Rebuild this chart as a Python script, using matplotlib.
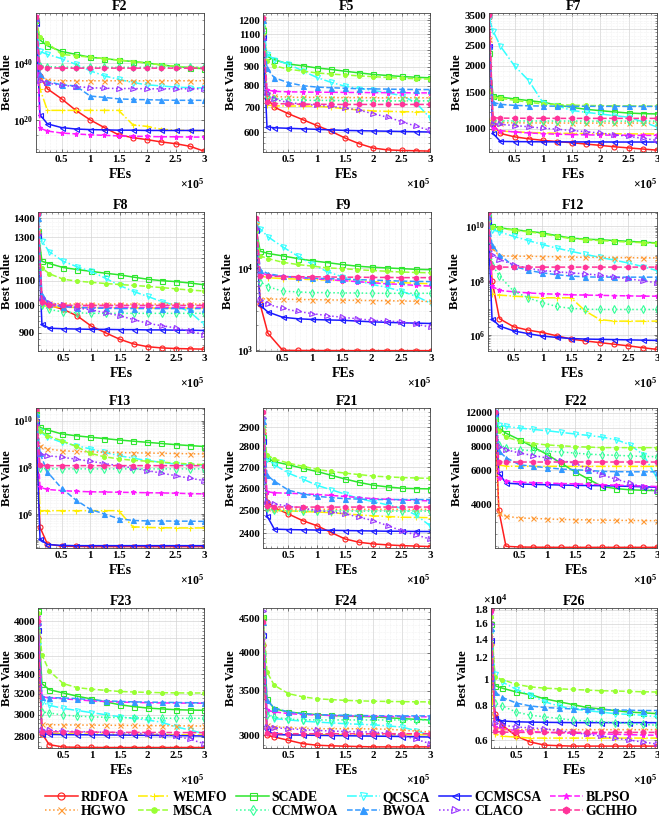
import numpy as np
import matplotlib
matplotlib.use('Agg')
import matplotlib.pyplot as plt
from matplotlib.ticker import (FixedLocator, FixedFormatter, NullFormatter,
                               MultipleLocator, FuncFormatter, LogLocator)

plt.rcParams['font.family'] = ['Liberation Serif', 'DejaVu Serif']
plt.rcParams['font.weight'] = 'bold'
plt.rcParams['mathtext.fontset'] = 'custom'
plt.rcParams['mathtext.rm'] = 'Liberation Serif:bold'
plt.rcParams['mathtext.it'] = 'Liberation Serif:bold:italic'
plt.rcParams['mathtext.bf'] = 'Liberation Serif:bold'

# ---------------- data ----------------
FES = [5000, 12000, 25000, 50000, 75000, 100000, 125000, 150000, 175000,
       200000, 225000, 250000, 275000, 300000]

ALGS = ['RDFOA', 'WEMFO', 'SCADE', 'QCSCA', 'CCMSCSA', 'BLPSO',
        'HGWO', 'MSCA', 'CCMWOA', 'BWOA', 'CLACO', 'GCHHO']

# F2, F12, F13 are given as log10(best value)
F2_LOG10 = {
    'RDFOA':   [55.0, 35.3, 31.0, 27.5, 23.5, 20.2, 17.5, 15.0, 14.0, 13.3, 12.5, 11.9, 11.0, 9.3],
    'WEMFO':   [55.5, 31.0, 23.5, 23.5, 23.5, 23.5, 23.5, 23.5, 18.5, 17.9, 16.9, 16.6, 16.5, 16.4],
    'SCADE':   [55.0, 48.0, 46.0, 44.0, 43.0, 42.0, 41.5, 41.0, 40.5, 40.0, 39.3, 38.8, 38.3, 38.0],
    'QCSCA':   [55.0, 44.0, 43.0, 41.5, 39.5, 37.3, 35.5, 34.3, 33.2, 32.4, 32.0, 31.6, 31.4, 31.3],
    'CCMSCSA': [54.0, 22.0, 18.8, 17.5, 17.0, 16.8, 16.7, 16.6, 16.6, 16.5, 16.5, 16.5, 16.5, 16.5],
    'BLPSO':   [56.5, 17.3, 16.3, 15.6, 15.3, 15.0, 14.8, 14.6, 14.5, 14.4, 14.3, 14.3, 14.2, 14.2],
    'HGWO':    [55.0, 34.5, 34.0, 33.8, 33.8, 33.8, 33.8, 33.8, 33.8, 33.8, 33.8, 33.8, 33.8, 33.8],
    'MSCA':    [55.0, 49.0, 47.0, 43.0, 42.5, 42.0, 41.5, 41.0, 40.5, 40.0, 39.3, 38.8, 38.5, 38.3],
    'CCMWOA':  [55.0, 39.0, 38.7, 38.6, 38.5, 38.5, 38.5, 38.5, 38.5, 38.5, 38.5, 38.5, 38.5, 38.5],
    'BWOA':    [55.5, 36.0, 33.5, 32.4, 32.0, 28.5, 28.0, 27.5, 27.3, 27.2, 27.1, 27.0, 27.0, 27.0],
    'CLACO':   [55.0, 33.8, 33.0, 32.2, 31.8, 31.4, 31.2, 31.1, 31.1, 31.0, 31.0, 31.0, 31.0, 31.0],
    'GCHHO':   [56.0, 38.5, 38.3, 38.2, 38.2, 38.2, 38.2, 38.2, 38.2, 38.2, 38.2, 38.2, 38.2, 38.2],
}

F5 = {
    'RDFOA':   [1080, 740, 700, 672, 648, 625, 603, 578, 558, 543, 537, 535, 534, 533],
    'WEMFO':   [1150, 710, 706, 705, 705, 704, 700, 693, 688, 684, 682, 681, 680, 680],
    'SCADE':   [1130, 960, 940, 915, 905, 893, 885, 875, 866, 858, 852, 847, 843, 840],
    'QCSCA':   [1200, 975, 940, 914, 877, 842, 817, 797, 786, 777, 765, 752, 720, 655],
    'CCMSCSA': [1080, 620, 616, 614, 612, 610, 608, 606, 605, 604, 603, 602, 601, 600],
    'BLPSO':   [1220, 780, 772, 770, 769, 768, 768, 767, 767, 766, 766, 766, 765, 765],
    'HGWO':    [1210, 760, 748, 745, 744, 744, 743, 743, 743, 742, 742, 742, 742, 742],
    'MSCA':    [1100, 930, 905, 886, 876, 866, 860, 855, 850, 846, 842, 838, 835, 833],
    'CCMWOA':  [1160, 750, 738, 733, 731, 730, 730, 729, 729, 729, 728, 728, 728, 728],
    'BWOA':    [1200, 890, 840, 815, 800, 793, 790, 787, 785, 784, 783, 782, 781, 781],
    'CLACO':   [1070, 765, 735, 720, 714, 708, 703, 697, 687, 672, 658, 640, 622, 606],
    'GCHHO':   [1215, 725, 716, 714, 713, 713, 712, 712, 712, 712, 712, 712, 712, 712],
}

F7 = {
    'RDFOA':   [3450, 1050, 950, 915, 895, 880, 868, 858, 845, 833, 820, 810, 800, 790],
    'WEMFO':   [1100, 990, 975, 968, 960, 955, 952, 950, 948, 947, 946, 945, 945, 945],
    'SCADE':   [2300, 1440, 1420, 1390, 1365, 1340, 1300, 1268, 1240, 1222, 1205, 1190, 1182, 1178],
    'QCSCA':   [3400, 2950, 2490, 2000, 1700, 1330, 1290, 1225, 1200, 1178, 1157, 1136, 1080, 1020],
    'CCMSCSA': [2500, 950, 870, 868, 867, 866, 866, 865, 865, 865, 864, 864, 864, 864],
    'BLPSO':   [3550, 1010, 980, 965, 955, 948, 942, 938, 935, 933, 932, 931, 930, 930],
    'HGWO':    [2700, 1080, 1070, 1068, 1067, 1066, 1066, 1065, 1065, 1065, 1065, 1065, 1065, 1065],
    'MSCA':    [1520, 1420, 1400, 1370, 1340, 1315, 1305, 1298, 1294, 1291, 1289, 1287, 1285, 1283],
    'CCMWOA':  [2400, 1100, 1092, 1090, 1090, 1089, 1089, 1089, 1088, 1088, 1088, 1088, 1088, 1088],
    'BWOA':    [2500, 1340, 1310, 1295, 1288, 1285, 1283, 1282, 1282, 1281, 1281, 1280, 1280, 1280],
    'CLACO':   [2500, 1060, 1050, 1037, 1022, 1007, 995, 982, 968, 954, 937, 920, 900, 880],
    'GCHHO':   [3500, 1130, 1125, 1124, 1123, 1123, 1122, 1122, 1122, 1122, 1122, 1122, 1122, 1122],
}

F8 = {
    'RDFOA':   [1330, 1020, 1000, 985, 960, 923, 900, 878, 862, 853, 849, 847, 846, 845],
    'WEMFO':   [1230, 1000, 995, 993, 992, 992, 991, 991, 991, 990, 990, 990, 990, 990],
    'SCADE':   [1330, 1185, 1175, 1157, 1148, 1140, 1132, 1125, 1115, 1106, 1100, 1096, 1090, 1083],
    'QCSCA':   [1410, 1280, 1230, 1185, 1160, 1140, 1110, 1080, 1055, 1035, 1015, 1000, 975, 930],
    'CCMSCSA': [1310, 930, 916, 914, 913, 912, 912, 911, 911, 910, 910, 909, 909, 908],
    'BLPSO':   [1420, 1010, 1000, 995, 993, 992, 992, 992, 992, 992, 992, 992, 992, 992],
    'HGWO':    [1330, 1020, 1008, 1006, 1005, 1005, 1005, 1005, 1005, 1005, 1005, 1005, 1005, 1005],
    'MSCA':    [1210, 1155, 1130, 1106, 1098, 1093, 1088, 1084, 1080, 1076, 1071, 1066, 1061, 1057],
    'CCMWOA':  [1300, 1000, 985, 975, 972, 970, 970, 970, 970, 970, 970, 970, 970, 970],
    'BWOA':    [1400, 1040, 1005, 995, 992, 990, 989, 988, 988, 988, 988, 988, 988, 988],
    'CLACO':   [1310, 1030, 1010, 1000, 990, 983, 972, 961, 947, 933, 925, 917, 905, 894],
    'GCHHO':   [1420, 1012, 1003, 1001, 1000, 1000, 1000, 1000, 1000, 1000, 1000, 1000, 1000, 1000],
}

F9 = {
    'RDFOA':   [3.6e4, 3.6e3, 1.6e3, 990, 985, 983, 982, 981, 980, 980, 980, 980, 980, 980],
    'WEMFO':   [3.5e4, 8.0e3, 7.6e3, 7.4e3, 7.3e3, 7.2e3, 7.1e3, 7.0e3, 6.9e3, 6.8e3, 6.7e3, 6.6e3, 6.5e3, 6.4e3],
    'SCADE':   [3.0e4, 1.6e4, 1.5e4, 1.4e4, 1.3e4, 1.22e4, 1.16e4, 1.1e4, 1.05e4, 1.02e4, 1.0e4, 9.8e3, 9.6e3, 9.5e3],
    'QCSCA':   [3.4e4, 3.0e4, 2.4e4, 1.8e4, 1.4e4, 1.1e4, 9.0e3, 7.8e3, 7.0e3, 6.3e3, 5.8e3, 5.2e3, 4.5e3, 3.7e3],
    'CCMSCSA': [2.9e4, 3.5e3, 2.9e3, 2.5e3, 2.4e3, 2.35e3, 2.32e3, 2.3e3, 2.25e3, 2.2e3, 2.17e3, 2.14e3, 2.12e3, 2.1e3],
    'BLPSO':   [4.0e4, 8.7e3, 8.2e3, 7.9e3, 7.6e3, 7.4e3, 7.2e3, 7.0e3, 6.8e3, 6.6e3, 6.4e3, 6.3e3, 6.1e3, 6.0e3],
    'HGWO':    [3.3e4, 4.2e3, 4.18e3, 4.15e3, 4.12e3, 4.1e3, 4.07e3, 4.05e3, 4.02e3, 4.0e3, 3.98e3, 3.95e3, 3.92e3, 3.9e3],
    'MSCA':    [2.8e4, 1.4e4, 1.3e4, 1.17e4, 1.1e4, 1.05e4, 1.0e4, 9.8e3, 9.5e3, 9.3e3, 9.1e3, 8.9e3, 8.8e3, 8.7e3],
    'CCMWOA':  [3.1e4, 6.8e3, 5.9e3, 5.2e3, 5.1e3, 5.0e3, 5.0e3, 4.95e3, 4.95e3, 4.9e3, 4.9e3, 4.9e3, 4.9e3, 4.9e3],
    'BWOA':    [3.2e4, 9.5e3, 8.5e3, 7.9e3, 7.7e3, 7.5e3, 7.4e3, 7.3e3, 7.2e3, 7.1e3, 7.0e3, 6.9e3, 6.85e3, 6.8e3],
    'CLACO':   [3.0e4, 4.05e3, 3.6e3, 3.2e3, 2.95e3, 2.77e3, 2.62e3, 2.5e3, 2.4e3, 2.3e3, 2.25e3, 2.2e3, 2.05e3, 1.9e3],
    'GCHHO':   [4.1e4, 8.0e3, 7.9e3, 7.85e3, 7.8e3, 7.8e3, 7.75e3, 7.7e3, 7.7e3, 7.65e3, 7.65e3, 7.6e3, 7.6e3, 7.6e3],
}

F12_LOG10 = {
    'RDFOA':   [10.5, 8.0, 6.6, 6.3, 6.18, 6.09, 5.97, 5.85, 5.78, 5.72, 5.66, 5.6, 5.53, 5.47],
    'WEMFO':   [10.3, 7.52, 7.47, 7.43, 7.40, 7.37, 7.37, 7.37, 6.88, 6.57, 6.51, 6.51, 6.51, 6.51],
    'SCADE':   [10.4, 10.0, 9.95, 9.88, 9.82, 9.76, 9.66, 9.57, 9.53, 9.51, 9.48, 9.45, 9.42, 9.39],
    'QCSCA':   [10.4, 9.88, 9.8, 9.63, 9.48, 9.33, 9.2, 9.08, 8.97, 8.86, 8.76, 8.65, 8.52, 8.37],
    'CCMSCSA': [10.2, 6.6, 6.33, 6.15, 6.05, 5.96, 5.91, 5.87, 5.85, 5.84, 5.83, 5.82, 5.81, 5.8],
    'BLPSO':   [10.5, 7.8, 7.64, 7.59, 7.55, 7.52, 7.5, 7.48, 7.47, 7.46, 7.45, 7.44, 7.43, 7.43],
    'HGWO':    [10.3, 9.2, 8.92, 8.9, 8.9, 8.89, 8.88, 8.87, 8.86, 8.86, 8.85, 8.85, 8.84, 8.84],
    'MSCA':    [10.3, 9.98, 9.93, 9.86, 9.8, 9.73, 9.63, 9.55, 9.51, 9.48, 9.45, 9.42, 9.4, 9.37],
    'CCMWOA':  [10.3, 8.59, 8.17, 7.61, 7.37, 7.19, 7.05, 6.98, 6.95, 6.94, 6.94, 6.94, 6.94, 6.94],
    'BWOA':    [10.4, 9.33, 8.96, 8.53, 8.38, 8.29, 8.22, 8.17, 8.14, 8.13, 8.13, 8.13, 8.13, 8.13],
    'CLACO':   [10.3, 8.96, 8.78, 8.59, 8.46, 8.37, 8.33, 8.29, 8.25, 8.2, 8.14, 8.07, 8.0, 7.92],
    'GCHHO':   [10.5, 8.52, 8.5, 8.5, 8.5, 8.5, 8.5, 8.5, 8.5, 8.5, 8.5, 8.5, 8.5, 8.5],
}

F13_LOG10 = {
    'RDFOA':   [10.4, 5.43, 4.71, 4.62, 4.61, 4.6, 4.6, 4.6, 4.6, 4.6, 4.6, 4.6, 4.6, 4.6],
    'WEMFO':   [10.3, 6.14, 6.14, 6.14, 6.14, 6.14, 6.14, 6.14, 5.45, 5.42, 5.41, 5.4, 5.4, 5.4],
    'SCADE':   [10.3, 9.71, 9.6, 9.43, 9.35, 9.29, 9.23, 9.17, 9.12, 9.07, 9.02, 8.97, 8.93, 8.89],
    'QCSCA':   [10.2, 9.54, 9.29, 9.07, 8.93, 8.79, 8.64, 8.5, 8.39, 8.29, 8.21, 8.14, 8.1, 8.07],
    'CCMSCSA': [10.0, 4.93, 4.69, 4.65, 4.64, 4.64, 4.64, 4.64, 4.64, 4.64, 4.64, 4.64, 4.64, 4.64],
    'BLPSO':   [10.5, 7.14, 7.05, 7.0, 6.97, 6.95, 6.94, 6.93, 6.92, 6.91, 6.9, 6.89, 6.87, 6.86],
    'HGWO':    [10.1, 8.93, 8.79, 8.71, 8.68, 8.66, 8.64, 8.63, 8.62, 8.61, 8.6, 8.59, 8.58, 8.57],
    'MSCA':    [10.2, 9.57, 9.35, 9.14, 8.9, 8.6, 8.45, 8.36, 8.3, 8.26, 8.22, 8.18, 8.14, 8.11],
    'CCMWOA':  [10.2, 7.95, 7.94, 7.93, 7.93, 7.93, 7.93, 7.93, 7.93, 7.93, 7.93, 7.93, 7.93, 7.93],
    'BWOA':    [10.3, 8.6, 7.8, 7.1, 6.6, 6.2, 6.0, 5.8, 5.72, 5.7, 5.7, 5.69, 5.69, 5.68],
    'CLACO':   [9.8, 8.57, 8.5, 8.43, 8.35, 8.26, 8.16, 8.07, 7.97, 7.86, 7.75, 7.64, 7.53, 7.43],
    'GCHHO':   [10.5, 8.08, 8.07, 8.07, 8.07, 8.07, 8.07, 8.07, 8.07, 8.07, 8.07, 8.07, 8.07, 8.07],
}

F21 = {
    'RDFOA':   [2870, 2540, 2512, 2484, 2455, 2433, 2404, 2376, 2362, 2355, 2351, 2348, 2346, 2344],
    'WEMFO':   [2950, 2505, 2500, 2498, 2495, 2493, 2490, 2485, 2480, 2476, 2473, 2470, 2469, 2468],
    'SCADE':   [2850, 2745, 2727, 2712, 2695, 2680, 2662, 2644, 2628, 2615, 2607, 2601, 2599, 2598],
    'QCSCA':   [2940, 2742, 2712, 2672, 2644, 2615, 2594, 2574, 2553, 2539, 2525, 2510, 2480, 2433],
    'CCMSCSA': [2830, 2476, 2418, 2416, 2415, 2414, 2413, 2412, 2411, 2410, 2409, 2409, 2408, 2408],
    'BLPSO':   [2980, 2585, 2580, 2578, 2575, 2572, 2568, 2563, 2558, 2553, 2550, 2547, 2545, 2543],
    'HGWO':    [2900, 2510, 2507, 2506, 2505, 2505, 2505, 2505, 2505, 2505, 2505, 2505, 2505, 2505],
    'MSCA':    [2880, 2760, 2740, 2720, 2705, 2690, 2680, 2672, 2665, 2658, 2654, 2651, 2649, 2647],
    'CCMWOA':  [2900, 2510, 2500, 2498, 2497, 2497, 2497, 2497, 2497, 2497, 2497, 2497, 2497, 2497],
    'BWOA':    [2930, 2662, 2634, 2592, 2575, 2564, 2558, 2553, 2551, 2549, 2549, 2549, 2549, 2549],
    'CLACO':   [2950, 2540, 2530, 2518, 2510, 2500, 2493, 2485, 2470, 2455, 2433, 2411, 2393, 2376],
    'GCHHO':   [2980, 2520, 2516, 2515, 2515, 2515, 2515, 2515, 2515, 2515, 2515, 2515, 2515, 2515],
}

F22 = {
    'RDFOA':   [12000, 3700, 2400, 2380, 2375, 2372, 2370, 2370, 2370, 2370, 2370, 2370, 2370, 2370],
    'WEMFO':   [11500, 6400, 6320, 6300, 6300, 6300, 6300, 6300, 6300, 6300, 6300, 6300, 6300, 6300],
    'SCADE':   [11000, 10000, 9400, 8680, 7950, 7270, 6550, 5920, 5400, 4940, 4820, 4750, 4720, 4700],
    'QCSCA':   [12200, 10400, 10200, 10000, 9840, 9685, 9500, 9320, 9150, 8970, 8700, 8200, 7260, 5470],
    'CCMSCSA': [11800, 5800, 5150, 5090, 5070, 5050, 5030, 5010, 5000, 4990, 4970, 4950, 4920, 4900],
    'BLPSO':   [12200, 5480, 5300, 5200, 5180, 5150, 5120, 5100, 5080, 5050, 5020, 5000, 4970, 4940],
    'HGWO':    [11900, 3600, 3450, 3380, 3360, 3340, 3320, 3310, 3300, 3290, 3285, 3280, 3275, 3270],
    'MSCA':    [11000, 9600, 9000, 8520, 8300, 8160, 8080, 8000, 7950, 7900, 7900, 7900, 7900, 7900],
    'CCMWOA':  [11500, 8200, 7900, 7700, 7600, 7570, 7500, 7400, 7300, 7250, 7200, 7150, 7100, 7080],
    'BWOA':    [12000, 7570, 7000, 6420, 6300, 6200, 6100, 6050, 6000, 5930, 5910, 5900, 5900, 5900],
    'CLACO':   [12300, 8000, 7700, 7400, 7180, 6970, 6760, 6550, 6100, 5680, 5400, 5150, 4900, 4660],
    'GCHHO':   [12200, 6640, 6640, 6640, 6640, 6640, 6640, 6640, 6640, 6640, 6640, 6640, 6640, 6640],
}

F23 = {
    'RDFOA':   [3800, 2829, 2734, 2714, 2712, 2711, 2710, 2710, 2710, 2710, 2710, 2710, 2710, 2710],
    'WEMFO':   [3900, 2835, 2830, 2828, 2826, 2825, 2824, 2823, 2822, 2821, 2820, 2819, 2818, 2817],
    'SCADE':   [4130, 3300, 3240, 3207, 3175, 3148, 3120, 3093, 3075, 3061, 3053, 3046, 3042, 3040],
    'QCSCA':   [3720, 3117, 3087, 3058, 3038, 3018, 2999, 2980, 2965, 2950, 2930, 2889, 2860, 2829],
    'CCMSCSA': [3900, 2829, 2822, 2820, 2819, 2818, 2817, 2816, 2815, 2814, 2813, 2812, 2810, 2808],
    'BLPSO':   [4050, 3168, 3160, 3150, 3140, 3130, 3124, 3118, 3115, 3112, 3110, 3109, 3108, 3107],
    'HGWO':    [3600, 2910, 2908, 2906, 2905, 2904, 2903, 2902, 2901, 2900, 2899, 2898, 2897, 2896],
    'MSCA':    [4100, 3607, 3433, 3301, 3260, 3245, 3233, 3222, 3217, 3213, 3210, 3208, 3207, 3207],
    'CCMWOA':  [3950, 3026, 3015, 2996, 2985, 2980, 2975, 2972, 2970, 2968, 2967, 2966, 2966, 2966],
    'BWOA':    [4000, 3168, 3162, 3158, 3152, 3140, 3130, 3125, 3120, 3118, 3116, 3114, 3112, 3110],
    'CLACO':   [3950, 2864, 2857, 2850, 2847, 2844, 2840, 2837, 2833, 2829, 2820, 2808, 2780, 2743],
    'GCHHO':   [4000, 2846, 2845, 2844, 2843, 2842, 2841, 2840, 2840, 2839, 2839, 2838, 2838, 2838],
}

F24 = {
    'RDFOA':   [4100, 3000, 2983, 2949, 2915, 2899, 2893, 2889, 2885, 2882, 2882, 2882, 2882, 2882],
    'WEMFO':   [4400, 3030, 3015, 3010, 3008, 3007, 3007, 3007, 3007, 3007, 3007, 3007, 3007, 3007],
    'SCADE':   [4520, 3400, 3291, 3253, 3238, 3224, 3215, 3208, 3204, 3200, 3190, 3180, 3172, 3165],
    'QCSCA':   [3950, 3253, 3179, 3165, 3152, 3142, 3133, 3124, 3118, 3112, 3100, 3088, 3050, 3000],
    'CCMSCSA': [4250, 3052, 3010, 3005, 3003, 3000, 2998, 2996, 2994, 2992, 2990, 2988, 2985, 2983],
    'BLPSO':   [4450, 3273, 3255, 3236, 3225, 3220, 3214, 3210, 3207, 3205, 3203, 3202, 3201, 3200],
    'HGWO':    [4000, 3105, 3090, 3081, 3075, 3070, 3070, 3070, 3069, 3068, 3065, 3055, 3045, 3035],
    'MSCA':    [4520, 3739, 3569, 3468, 3430, 3407, 3397, 3388, 3382, 3378, 3375, 3373, 3371, 3370],
    'CCMWOA':  [4000, 3217, 3195, 3173, 3168, 3165, 3165, 3165, 3165, 3165, 3165, 3165, 3165, 3165],
    'BWOA':    [4450, 3388, 3300, 3253, 3235, 3224, 3220, 3216, 3214, 3212, 3211, 3210, 3210, 3210],
    'CLACO':   [4620, 3088, 3080, 3070, 3060, 3052, 3046, 3040, 3037, 3035, 3020, 3000, 2960, 2915],
    'GCHHO':   [4450, 3020, 3018, 3017, 3017, 3017, 3017, 3017, 3017, 3017, 3017, 3017, 3017, 3017],
}

F26 = {
    'RDFOA':   [13500, 7500, 6800, 6200, 5900, 5750, 5720, 5700, 5700, 5700, 5700, 5700, 5700, 5700],
    'WEMFO':   [10000, 6300, 6200, 6150, 6100, 6100, 6100, 6100, 6100, 6100, 6100, 6100, 6100, 6100],
    'SCADE':   [16000, 9500, 9300, 9000, 8800, 8500, 8300, 8100, 7900, 7800, 7700, 7600, 7550, 7500],
    'QCSCA':   [15000, 10500, 9800, 9200, 8800, 8300, 8000, 7800, 7700, 7600, 7500, 7450, 7400, 7300],
    'CCMSCSA': [14000, 7200, 7050, 7000, 6980, 6970, 6960, 6950, 6950, 6950, 6950, 6950, 6950, 6950],
    'BLPSO':   [17500, 6700, 6600, 6500, 6450, 6400, 6380, 6360, 6340, 6320, 6300, 6280, 6260, 6250],
    'HGWO':    [12000, 6600, 6550, 6550, 6550, 6550, 6550, 6550, 6550, 6550, 6550, 6550, 6550, 6550],
    'MSCA':    [17000, 10200, 10000, 9600, 9400, 9300, 9250, 9200, 9150, 9100, 9080, 9050, 9020, 9000],
    'CCMWOA':  [13000, 8200, 8000, 7600, 7400, 7300, 7200, 7100, 7050, 7000, 6950, 6900, 6850, 6800],
    'BWOA':    [15500, 9000, 8600, 8200, 8000, 7900, 7850, 7800, 7780, 7760, 7740, 7720, 7700, 7700],
    'CLACO':   [16000, 6900, 6800, 6700, 6650, 6600, 6500, 6400, 6300, 6200, 6100, 6000, 5900, 5800],
    'GCHHO':   [18000, 6450, 6420, 6400, 6400, 6400, 6400, 6400, 6400, 6400, 6400, 6400, 6400, 6400],
}

# ---------------- styles ----------------
COLORS = {'RDFOA': '#ff1f1f', 'WEMFO': '#ffee00', 'SCADE': '#2ee62e', 'QCSCA': '#33ffff',
          'CCMSCSA': '#1a1aff', 'BLPSO': '#ff1aff', 'HGWO': '#ff9933', 'MSCA': '#99ff33',
          'CCMWOA': '#33ff99', 'BWOA': '#3399ff', 'CLACO': '#9933ff', 'GCHHO': '#ff3399'}
LSTYLE = {'RDFOA': '-', 'WEMFO': '-.', 'SCADE': '-', 'QCSCA': '-.', 'CCMSCSA': '-',
          'BLPSO': '--', 'HGWO': ':', 'MSCA': '--', 'CCMWOA': ':', 'BWOA': '--',
          'CLACO': ':', 'GCHHO': '--'}
MARK = {'RDFOA': 'o', 'WEMFO': '+', 'SCADE': 's', 'QCSCA': 'v', 'CCMSCSA': '<',
        'BLPSO': '*', 'HGWO': 'x', 'MSCA': 'o', 'CCMWOA': 'd', 'BWOA': '^',
        'CLACO': '>', 'GCHHO': 'h'}
FILLED = {'MSCA', 'BWOA', 'GCHHO', 'BLPSO'}

W, H = 659, 823
ROWS = [(13, 152), (212, 351), (408, 548), (608, 748)]

# ylab = pixel x of the right edge of the rotated "Best Value" label
PANELS = [
    dict(title='F2', data=F2_LOG10, log10=True, ylim=(1e9, 10 ** 57.4),
         ticks=[1e20, 1e40], labels=[r'$10^{20}$', r'$10^{40}$'],
         minor=[10.0 ** k for k in range(10, 58, 5)], row=0, x=(36, 204), ylab=13),
    dict(title='F5', data=F5, ylim=(530, 1256),
         ticks=[600, 700, 800, 900, 1000, 1100, 1200], minor_step=20, row=0, x=(263, 430), ylab=237),
    dict(title='F7', data=F7, ylim=(774, 3590),
         ticks=[1000, 1500, 2000, 2500, 3000, 3500], minor_step=100, row=0, x=(489, 657), ylab=463),
    dict(title='F8', data=F8, ylim=(839, 1433),
         ticks=[900, 1000, 1100, 1200, 1300, 1400], minor_step=20, row=1, x=(38, 204), ylab=13),
    dict(title='F9', data=F9, ylim=(970, 4.8e4),
         ticks=[1e3, 1e4], labels=[r'$10^{3}$', r'$10^{4}$'], logminor=True,
         row=1, x=(256, 431), ylab=234),
    dict(title='F12', data=F12_LOG10, log10=True, ylim=(10 ** 5.41, 10 ** 10.53),
         ticks=[1e6, 1e8, 1e10], labels=[r'$10^{6}$', r'$10^{8}$', r'$10^{10}$'],
         logminor=True, row=1, x=(488, 657), ylab=461),
    dict(title='F13', data=F13_LOG10, log10=True, ylim=(10 ** 4.54, 10 ** 10.54),
         ticks=[1e6, 1e8, 1e10], labels=[r'$10^{6}$', r'$10^{8}$', r'$10^{10}$'],
         logminor=True, row=2, x=(36, 204), ylab=13),
    dict(title='F21', data=F21, ylim=(2338, 3001),
         ticks=[2400, 2500, 2600, 2700, 2800, 2900], minor_step=20, row=2, x=(263, 430), ylab=237),
    dict(title='F22', data=F22, ylim=(2352, 12745),
         ticks=[4000, 6000, 8000, 10000, 12000], minor_step=400, row=2, x=(495, 657), ylab=463),
    dict(title='F23', data=F23, ylim=(2706, 4169),
         ticks=[2800, 3000, 3200, 3400, 3600, 3800, 4000], minor_step=40, row=3, x=(38, 204), ylab=13),
    dict(title='F24', data=F24, ylim=(2871, 4670),
         ticks=[3000, 3500, 4000, 4500], minor_step=100, row=3, x=(263, 430), ylab=237),
    dict(title='F26', data=F26, ylim=(5610, 18300),
         ticks=[6000, 8000, 10000, 12000, 14000, 16000, 18000],
         labels=['0.6', '0.8', '1', '1.2', '1.4', '1.6', '1.8'], minor_step=400,
         row=3, x=(491, 657), ylab=469, yexp=True),
]

fig = plt.figure(figsize=(W / 100, H / 100), dpi=100)

handles = {}
for p in PANELS:
    top, bot = ROWS[p['row']]
    left, right = p['x']
    ax = fig.add_axes([left / W, 1 - bot / H, (right - left) / W, (bot - top) / H])
    for a in ALGS:
        vals = np.array(p['data'][a], dtype=float)
        if p.get('log10'):
            vals = 10.0 ** vals
        mfc = COLORS[a] if a in FILLED else 'none'
        ms = 3.6
        if a == 'MSCA':
            ms = 2.8
        ln, = ax.plot(FES, vals, color=COLORS[a], ls=LSTYLE[a], lw=1.1,
                      marker=MARK[a], ms=ms, mfc=mfc, mec=COLORS[a], mew=0.8, label=a)
        handles[a] = ln
    ax.set_yscale('log')
    ax.set_xlim(5000, 300000)
    ax.set_ylim(*p['ylim'])
    ax.yaxis.set_major_locator(FixedLocator(p['ticks']))
    labels = p.get('labels') or [f'{v:g}' for v in p['ticks']]
    ax.yaxis.set_major_formatter(FixedFormatter(labels))
    if p.get('logminor'):
        ax.yaxis.set_minor_locator(LogLocator(base=10, subs=np.arange(2, 10), numticks=60))
    elif 'minor' in p:
        ax.yaxis.set_minor_locator(FixedLocator(p['minor']))
    else:
        st = p['minor_step']
        lo, hi = p['ylim']
        ax.yaxis.set_minor_locator(FixedLocator(np.arange(np.ceil(lo / st) * st, hi, st)))
    ax.yaxis.set_minor_formatter(NullFormatter())
    ax.xaxis.set_major_locator(FixedLocator([50000, 100000, 150000, 200000, 250000, 300000]))
    ax.xaxis.set_major_formatter(FuncFormatter(lambda v, pos: f'{v / 1e5:g}'))
    ax.xaxis.set_minor_locator(MultipleLocator(10000))
    ax.grid(True, which='major', color='#d4d4d4', lw=0.5)
    ax.grid(True, which='minor', color='#e6e6e6', lw=0.4, ls=':')
    ax.set_axisbelow(True)
    ax.tick_params(which='both', direction='in', top=True, right=True,
                   labelsize=7.8, pad=2, color='#444444')
    ax.tick_params(which='major', length=2.5, width=0.5)
    ax.tick_params(which='minor', length=1.3, width=0.4)
    for s in ax.spines.values():
        s.set_color('#444444')
        s.set_linewidth(0.6)
    for lab in ax.get_xticklabels() + ax.get_yticklabels():
        lab.set_fontweight('bold')
    ax.set_title(p['title'], fontsize=10, fontweight='bold', pad=1.5)
    ax.set_xlabel('FEs', fontsize=10, fontweight='bold', labelpad=3)
    ax.set_ylabel('Best Value', fontsize=9, fontweight='bold')
    ax.yaxis.set_label_coords((p['ylab'] - left) / (right - left), 0.5)
    ax.text(1.0, -0.18, r'$\times10^{5}$', transform=ax.transAxes, ha='right',
            va='top', fontsize=8.5)
    if p.get('yexp'):
        ax.text(-0.05, 1.0, r'$\times10^{4}$', transform=ax.transAxes, ha='left',
                va='bottom', fontsize=8.5)

ORDER = ['RDFOA', 'HGWO', 'WEMFO', 'MSCA', 'SCADE', 'CCMWOA', 'QCSCA', 'BWOA',
         'CCMSCSA', 'CLACO', 'BLPSO', 'GCHHO']
leg = fig.legend([handles[a] for a in ORDER], ORDER, ncol=6, loc='center',
                 bbox_to_anchor=(0.518, 0.0225), frameon=False,
                 prop={'family': 'Liberation Serif', 'weight': 'bold', 'size': 9.8},
                 handlelength=2.4, columnspacing=0.65, handletextpad=0.2,
                 labelspacing=0.1, borderaxespad=0, markerscale=1.4)

fig.savefig('out.png', dpi=100)
